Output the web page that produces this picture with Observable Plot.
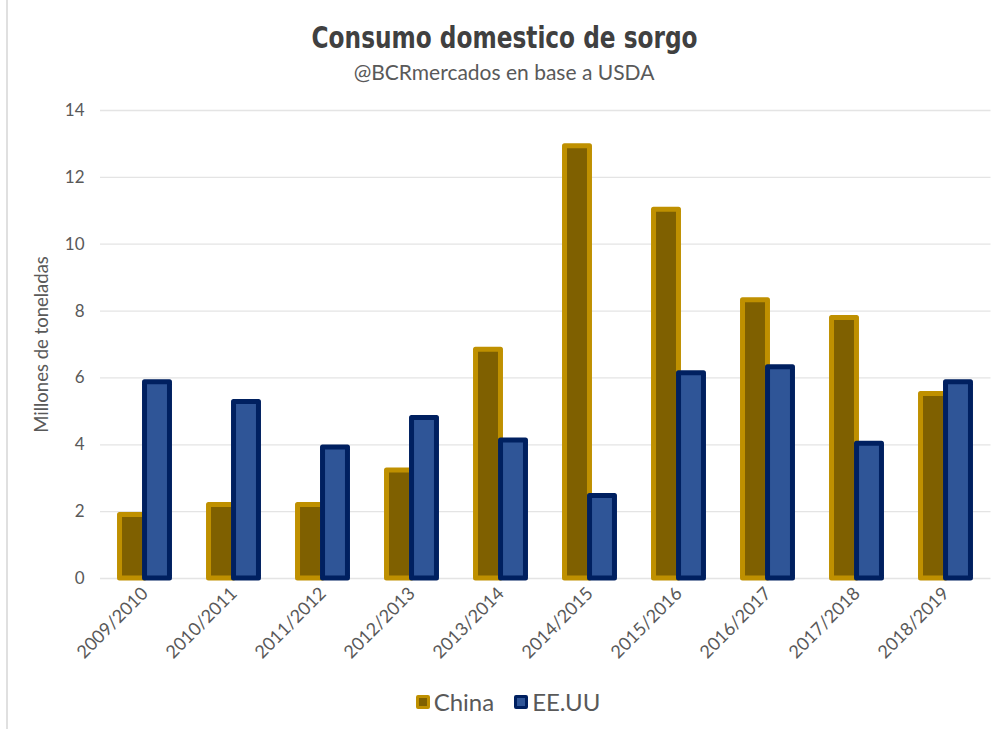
<!DOCTYPE html>
<html>
<head>
<meta charset="utf-8">
<script src="https://cdn.jsdelivr.net/npm/d3@7"></script>
<script src="https://cdn.jsdelivr.net/npm/@observablehq/plot@0.6"></script>
<style>
  html, body { margin: 0; padding: 0; background: #fff; }
  #wrap { position: relative; width: 992px; height: 729px; overflow: hidden; background: #fff; font-family: Lato, "Open Sans", sans-serif; }
  #border { position: absolute; left: 6px; top: 0; width: 2px; height: 729px; background: #e0e0e0; }
  #title { position: absolute; left: 0; width: 1010px; top: 19px; text-align: center; }
  #title span { display: inline-block; font-family: "DejaVu Sans", sans-serif; font-stretch: condensed; font-weight: bold; font-size: 31px; color: #404040; transform-origin: center; }
  #subtitle { position: absolute; left: 0; width: 1008px; top: 59px; text-align: center; font-size: 21px; color: #595959; }
  #chart { position: absolute; left: 0; top: 90px; }
  #legend { position: absolute; top: 687px; left: 0; width: 1016px; display: flex; justify-content: center; gap: 20px; font-size: 24px; color: #595959; }
  .item { display: flex; align-items: center; gap: 4px; }
  .sw { width: 8px; height: 8px; border-radius: 2px; border: 3px solid; }
</style>
</head>
<body>
<div id="wrap">
  <div id="border"></div>
  <div id="title"><span id="titletext">Consumo domestico de sorgo</span></div>
  <div id="subtitle">@BCRmercados en base a USDA</div>
  <div id="chart"></div>
  <div id="legend"></div>
</div>
<script>
const years = ["2009/2010","2010/2011","2011/2012","2012/2013","2013/2014","2014/2015","2015/2016","2016/2017","2017/2018","2018/2019"];
const china = [1.9, 2.2, 2.2, 3.23, 6.84, 12.93, 11.03, 8.32, 7.79, 5.52];
const usa   = [5.87, 5.28, 3.92, 4.8, 4.13, 2.47, 6.14, 6.32, 4.03, 5.87];
const series = ["China", "EE.UU"];
const fills = ["#7f6000", "#2f5597"];
const strokes = ["#bf9000", "#002060"];
const yTicks = [0, 2, 4, 6, 8, 10, 12, 14];

const rows = [];
years.forEach((y, i) => {
  rows.push({year: y, series: "China", value: china[i]});
  rows.push({year: y, series: "EE.UU", value: usa[i]});
});

const W = 992, H = 600, mL = 100, mR = 1.5;
const bw = (W - mL - mR) / years.length;
const barW = 25, gap = 0;

const chart = Plot.plot({
  width: W, height: H,
  marginLeft: mL, marginRight: mR, marginTop: 20, marginBottom: 112,
  style: {fontFamily: "Lato, 'Open Sans', sans-serif", color: "#595959", background: "transparent"},
  x: {domain: years, padding: 0},
  y: {domain: [0, 14]},
  marks: [
    Plot.ruleY(yTicks, {stroke: "#e4e4e4", strokeWidth: 1.3}),
    Plot.barY(rows.filter(d => d.series === "China"), {
      x: "year", y: "value", fill: fills[0], stroke: strokes[0], strokeWidth: 5, strokeLinejoin: "round",
      insetLeft: bw / 2 - barW - gap, insetRight: bw / 2 + gap
    }),
    Plot.barY(rows.filter(d => d.series === "EE.UU"), {
      x: "year", y: "value", fill: fills[1], stroke: strokes[1], strokeWidth: 5, strokeLinejoin: "round",
      insetLeft: bw / 2 + gap, insetRight: bw / 2 - barW - gap
    }),
    Plot.axisY({ticks: yTicks, tickSize: 0, tickPadding: 16, fontSize: 17, label: null}),
    Plot.axisY({ticks: [], tickSize: 0, fontSize: 18.5,
      label: "Millones de toneladas", labelAnchor: "center", labelOffset: 66, labelArrow: "none"}),
    Plot.axisX({tickSize: 0, tickPadding: 12, tickRotate: -45, fontSize: 18, label: null})
  ]
});
document.getElementById("chart").appendChild(chart);

// fit the condensed title to the reference width
const tt = document.getElementById("titletext");
const tw = tt.getBoundingClientRect().width;
tt.style.transform = `scaleX(${386 / tw})`;

const legend = document.getElementById("legend");
series.forEach((s, i) => {
  const item = document.createElement("div");
  item.className = "item";
  const sw = document.createElement("div");
  sw.className = "sw";
  sw.style.background = fills[i];
  sw.style.borderColor = strokes[i];
  const t = document.createElement("span");
  t.textContent = s;
  item.appendChild(sw);
  item.appendChild(t);
  legend.appendChild(item);
});
</script>
</body>
</html>
